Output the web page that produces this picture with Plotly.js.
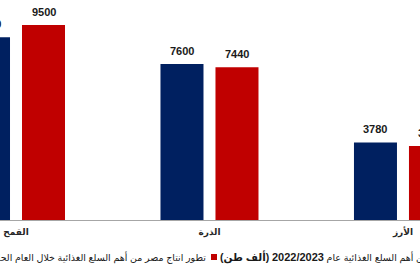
<!DOCTYPE html>
<html>
<head>
<meta charset="utf-8">
<script src="https://cdn.plot.ly/plotly-3.0.1.min.js"></script>
<style>
  html, body { margin: 0; padding: 0; background: #fff; overflow: hidden; }
  #chart { width: 420px; height: 280px; }
</style>
</head>
<body>
<div id="chart"></div>
<script>
// Egypt's production of key food commodities (thousand tonnes)
const categories = ['القمح', 'الذرة', 'الأرز'];
const prevYearValues = [8900, 7600, 3780];   // 2022/2023
const currYearValues = [9500, 7440, 3600];   // current year

const unitLabel = '<b><span style="font-size:10.5px">(ألف طن)</span></b>';
const prevYearName = 'تطور انتاج مصر من أهم السلع الغذائية عام <b><span style="font-size:11px">2022/2023</span></b> ' + unitLabel;
const currYearName = 'تطور انتاج مصر من أهم السلع الغذائية خلال العام الحالي ' + unitLabel;

const BLUE = '#002060';
const RED = '#C00000';
const FONT = 'Liberation Sans, Arial, DejaVu Sans, sans-serif';
const RLM = '\u200F';

const traces = [
  { type: 'bar', name: prevYearName, x: categories, y: prevYearValues,
    marker: { color: BLUE }, hoverinfo: 'none' },
  { type: 'bar', name: currYearName, x: categories, y: currYearValues,
    marker: { color: RED }, hoverinfo: 'none' }
];

// value labels sit above each bar, offset to the bar's slot in the group
const slotShift = 27.5;
const annotations = [];
[prevYearValues, currYearValues].forEach((vals, t) => {
  vals.forEach((v, i) => {
    annotations.push({
      x: categories[i], y: v, xref: 'x', yref: 'y',
      xshift: t === 0 ? -slotShift : slotShift, yshift: 5,
      yanchor: 'bottom', xanchor: 'center', showarrow: false,
      text: String(v),
      font: { family: FONT, size: 11, color: '#1a1a1a', weight: 'bold' }
    });
  });
});

// legend drawn right-to-left: text followed by its colour swatch
const plotW = 420, plotH = 220;
const px = v => v / plotW;
const py = v => (plotH - v) / plotH;
const legendY = 257;
const legendFont = { family: FONT, size: 9.5, color: '#1a1a1a' };
annotations.push({
  x: px(208), y: py(legendY), xref: 'paper', yref: 'paper',
  xanchor: 'right', yanchor: 'middle', showarrow: false,
  text: currYearName + RLM, font: legendFont
});
annotations.push({
  x: px(218), y: py(legendY), xref: 'paper', yref: 'paper',
  xanchor: 'left', yanchor: 'middle', showarrow: false,
  text: prevYearName + RLM, font: legendFont
});
const shapes = [
  { type: 'rect', xref: 'paper', yref: 'paper',
    x0: px(211), x1: px(217), y0: py(legendY + 3), y1: py(legendY - 3),
    fillcolor: RED, line: { width: 0 } },
  { type: 'rect', xref: 'paper', yref: 'paper',
    x0: px(500), x1: px(506), y0: py(legendY + 3), y1: py(legendY - 3),
    fillcolor: BLUE, line: { width: 0 } }
];

const layout = {
  width: 420, height: 280,
  margin: { l: 0, r: 0, t: 0, b: 60, pad: 0 },
  paper_bgcolor: '#ffffff', plot_bgcolor: '#ffffff',
  showlegend: false,
  barmode: 'group', bargap: 0.4315, bargroupgap: 0.218,
  font: { family: FONT, color: '#262626' },
  xaxis: {
    type: 'category', range: [-0.0827, 2.088], fixedrange: true,
    showline: true, linecolor: '#a6a6a6', linewidth: 1,
    ticks: '', showgrid: false, zeroline: false, ticklabelstandoff: 3,
    tickfont: { family: FONT, size: 9, color: '#262626', weight: 'bold' }
  },
  yaxis: {
    range: [0, 10716], visible: false, showgrid: false, zeroline: false, fixedrange: true
  },
  annotations: annotations,
  shapes: shapes
};

Plotly.newPlot('chart', traces, layout, { staticPlot: true, displayModeBar: false });
</script>
</body>
</html>
